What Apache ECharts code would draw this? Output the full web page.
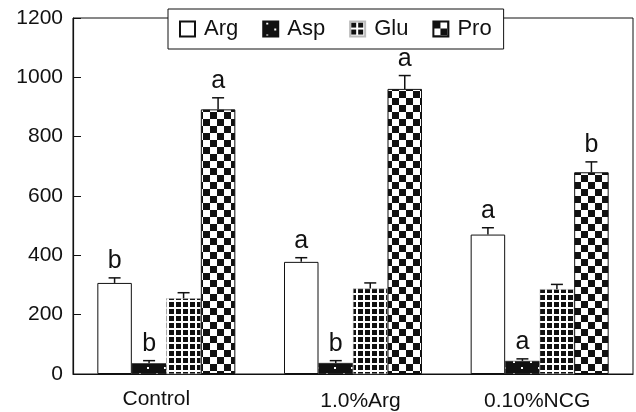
<!DOCTYPE html>
<html><head><meta charset="utf-8">
<script src="https://cdn.jsdelivr.net/npm/echarts@6/dist/echarts.min.js"></script>
<style>html,body{margin:0;padding:0;background:#fff}#c{width:636px;height:412px}</style>
</head><body><div id="c"></div>
<script>
// ---- data ----
const categories = ['Control', '1.0%Arg', '0.10%NCG'];
const seriesNames = ['Arg', 'Asp', 'Glu', 'Pro'];
const argValues = [307, 378, 470];
const aspValues = [36, 37, 44];
const gluValues = [255, 288, 286];
const proValues = [892, 961, 680];
const argErr = [17, 14, 23];
const aspErr = [9, 8, 7];
const gluErr = [19, 19, 16];
const proErr = [39, 45, 35];
const argLetters = ['b', 'a', 'a'];
const aspLetters = ['b', 'b', 'a'];
const gluLetters = ['', '', ''];
const proLetters = ['a', 'a', 'b'];
const yMin = 0, yMax = 1200, yStep = 200;

// ---- styles ----
const FONT = 'Liberation Sans, Arial, Helvetica, sans-serif';
const BAR_W = 34.5;
function mk(w, h, draw) { const c = document.createElement('canvas'); c.width = w; c.height = h; const g = c.getContext('2d'); draw(g); return c; }
const aspPat = mk(17, 12, g => { g.fillStyle = '#111'; g.fillRect(0, 0, 17, 12); g.fillStyle = '#fff'; g.fillRect(3, 1, 2, 2); g.fillRect(11, 7, 2, 2); });
const gluPat = mk(7, 7, g => { g.fillStyle = '#fff'; g.fillRect(0, 0, 7, 7); g.fillStyle = '#111'; g.fillRect(1, 1, 5, 5); });
const proPat = mk(14, 14, g => { g.fillStyle = '#fff'; g.fillRect(0, 0, 14, 14); g.fillStyle = '#111'; g.fillRect(0, 0, 7, 7); g.fillRect(7, 7, 7, 7); });

const valueSets = [argValues, aspValues, gluValues, proValues];
const errSets = [argErr, aspErr, gluErr, proErr];
const letterSets = [argLetters, aspLetters, gluLetters, proLetters];
const fills = [
  { color: '#fff', borderColor: '#111', borderWidth: 1 },
  { color: { image: aspPat, repeat: 'repeat' }, borderColor: '#111', borderWidth: 0.5 },
  { color: { image: gluPat, repeat: 'repeat' }, borderColor: '#bbb', borderWidth: 0.5 },
  { color: { image: proPat, repeat: 'repeat' }, borderColor: '#111', borderWidth: 1 }
];

const barSeries = seriesNames.map((n, i) => ({
  name: n, type: 'bar', barWidth: BAR_W, barGap: '0%',
  data: valueSets[i], itemStyle: fills[i], emphasis: { disabled: true }
}));

const errData = [];
valueSets.forEach((vals, si) => vals.forEach((v, ci) => errData.push([ci, si, v, errSets[si][ci]])));

function renderErr(params, api) {
  const ci = api.value(0), si = api.value(1), v = api.value(2), e = api.value(3);
  const cx = api.coord([ci, 0])[0];
  const x = cx - 2 * BAR_W + (si + 0.5) * BAR_W;
  const top = api.coord([ci, v])[1];
  const hi = api.coord([ci, v + e])[1];
  const letter = letterSets[si][ci];
  const st = { stroke: '#111', lineWidth: 1.5 };
  const ch = [
    { type: 'line', shape: { x1: x, y1: top, x2: x, y2: hi }, style: st },
    { type: 'line', shape: { x1: x - 6, y1: hi, x2: x + 6, y2: hi }, style: st }
  ];
  if (letter) ch.push({ type: 'text', style: { text: letter, x: x, y: hi - 4, align: 'center', verticalAlign: 'bottom', fontSize: 25, fontFamily: FONT, fill: '#111' } });
  return { type: 'group', children: ch };
}

const chart = echarts.init(document.getElementById('c'));
chart.setOption({
  animation: false,
  backgroundColor: '#fff',
  textStyle: { fontFamily: FONT },
  grid: { left: 73, right: 3, top: 18, bottom: 36, show: true, borderColor: '#111', borderWidth: 1 },
  legend: {
    data: seriesNames, left: 168, top: 9, icon: 'rect', itemWidth: 15, itemHeight: 15, itemGap: 24,
    padding: [9, 12, 9, 11], backgroundColor: '#fff', borderColor: '#111', borderWidth: 1,
    textStyle: { fontSize: 22, color: '#111', fontFamily: FONT, padding: [0, 0, 0, 4] }, z: 10
  },
  xAxis: {
    type: 'category',
    data: [
      { value: categories[0], textStyle: { padding: [0, 20, 0, 0] } },
      { value: categories[1], textStyle: { padding: [2, 0, 0, 15] } },
      { value: categories[2], textStyle: { padding: [2, 5, 0, 0] } }
    ],
    axisLine: { lineStyle: { color: '#111', width: 1.2 } },
    axisTick: { inside: true, length: 7, lineStyle: { color: '#111' } },
    axisLabel: { fontSize: 21, color: '#111', margin: 15, fontFamily: FONT }
  },
  yAxis: {
    type: 'value', min: yMin, max: yMax, interval: yStep,
    axisLine: { show: true, lineStyle: { color: '#111', width: 1.2 } },
    axisTick: { show: true, inside: true, length: 8, lineStyle: { color: '#111' } },
    splitLine: { show: false },
    axisLabel: { fontSize: 21, color: '#111', margin: 10, fontFamily: FONT, formatter: v => String(v) }
  },
  series: barSeries.concat([{
    name: 'err', type: 'custom', renderItem: renderErr, data: errData,
    encode: { x: 0, y: 2 }, z: 5, silent: true
  }])
});
</script></body></html>
